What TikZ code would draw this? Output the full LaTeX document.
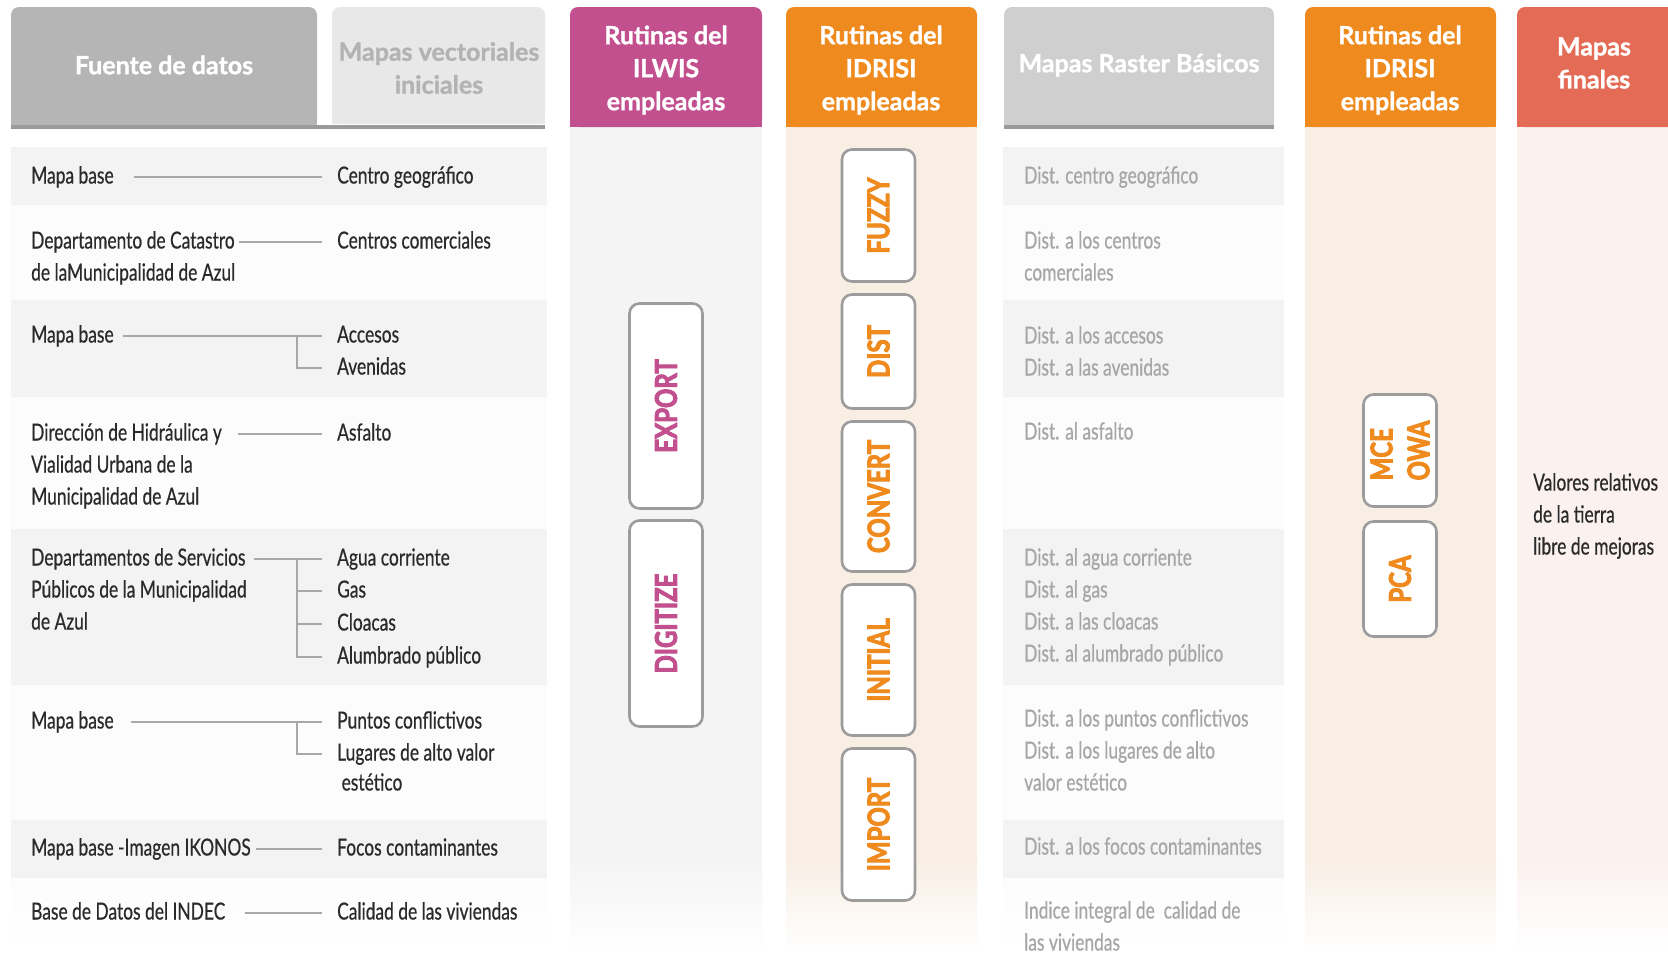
\documentclass[tikz,border=0pt]{standalone}
\usepackage{fontspec}
\setmainfont{Lato}
\newfontfamily\bodyf{Lato}[FakeStretch=0.74, FakeBold=0.5]
\newfontfamily\headf{Lato Bold}[FakeBold=1.2]
\newfontfamily\boxf{Lato Bold}[FakeStretch=0.8, FakeBold=3]
\definecolor{hdgray}{HTML}{B5B5B5}
\definecolor{hdlight}{HTML}{E8E8E8}
\definecolor{hdlighttext}{HTML}{B3B3B3}
\definecolor{ilwis}{HTML}{C2508F}
\definecolor{orng}{HTML}{EF8A1E}
\definecolor{rastgray}{HTML}{CFCFCF}
\definecolor{coral}{HTML}{E46B55}
\definecolor{band}{HTML}{F3F3F3}
\definecolor{bandw}{HTML}{FCFCFC}
\definecolor{ilbody}{HTML}{F4F4F5}
\definecolor{idbody}{HTML}{F8EEE4}
\definecolor{fibody}{HTML}{FBF1EF}
\definecolor{txt}{HTML}{2A2A2A}
\definecolor{rtxt}{HTML}{A6A6A6}
\definecolor{lnk}{HTML}{A8A8A8}
\definecolor{bxline}{HTML}{9C9C9C}
\definecolor{uline}{HTML}{9A9A9A}
\newcommand\ml[1]{\begin{tabular}[t]{@{}l@{}}#1\end{tabular}}
\begin{document}
\begin{tikzpicture}[x=1pt,y=-1pt,
  hdtext/.style={align=center, inner sep=0pt, font=\headf\fontsize{25}{33}\selectfont},
  src/.style={anchor=base west, inner sep=0pt, text=txt, font=\bodyf\fontsize{23.5}{32}\selectfont},
  ras/.style={src, text=rtxt},
  conn/.style={draw=lnk, line width=1.8pt, shorten >=15pt},
  rbox/.style={draw=bxline, line width=2.6pt, fill=white, rounded corners=10pt, rotate=90,
     inner sep=0pt, minimum height=73pt, font=\boxf\fontsize{30}{37}\selectfont}]
\useasboundingbox (0,0) rectangle (1668,954);
\fill[white] (0,0) rectangle (1668,954);
% ---- row bands (left group and raster column)
\foreach \xa/\xb in {11/547, 1003/1284}{
  \fill[band]  (\xa,147) rectangle (\xb,205);
  \fill[bandw] (\xa,205) rectangle (\xb,300);
  \fill[band]  (\xa,300) rectangle (\xb,397);
  \fill[bandw] (\xa,397) rectangle (\xb,529);
  \fill[band]  (\xa,529) rectangle (\xb,685);
  \fill[bandw] (\xa,685) rectangle (\xb,820);
  \fill[band]  (\xa,820) rectangle (\xb,878);
  \shade[top color=bandw, bottom color=white] (\xa,878) rectangle (\xb,950);
}
% ---- column bodies
\foreach \xa/\xb/\c in {570/762/ilbody, 786/977/idbody, 1305/1496/idbody, 1517/1680/fibody}{
  \fill[\c] (\xa,127) rectangle (\xb,860);
  \shade[top color=\c, bottom color=white] (\xa,859) rectangle (\xb,952);
}
% ---- headers
\foreach \xa/\xb/\yb/\c in {11/317/126/hdgray, 332/545/124/hdlight, 570/762/127/ilwis, 786/977/127/orng,
   1004/1274/126/rastgray, 1305/1496/127/orng, 1517/1690/127/coral}{
  \fill[\c, rounded corners=8pt] (\xa,7) rectangle (\xb,\yb);
  \fill[\c] (\xa,40) rectangle (\xb,\yb);
}
\fill[uline] (11,125) rectangle (545,129);
\fill[uline] (1004,125) rectangle (1274,129);
\node[hdtext, text=white] (hfuente) at (164,65) {Fuente de datos};
\node[hdtext, text=hdlighttext] (hvect) at (439,68) {Mapas vectoriales\\iniciales};
\node[hdtext, text=white] (hilwis) at (666,70) {Rutinas del\\ILWIS\\empleadas};
\node[hdtext, text=white] (hidrisi) at (881,70) {Rutinas del\\IDRISI\\empleadas};
\node[hdtext, text=white] (hraster) at (1139,65) {Mapas Raster Básicos};
\node[hdtext, text=white] (hidrisib) at (1400,70) {Rutinas del\\IDRISI\\empleadas};
\node[hdtext, text=white] (hfinal) at (1594,63) {Mapas\\finales};
% ---- data sources
\node[src] (s1) at (31,183.5) {\ml{Mapa base}};
\node[src] (s2) at (31,248.5) {\ml{Departamento de Catastro\\de laMunicipalidad de Azul}};
\node[src] (s3) at (31,342.5) {\ml{Mapa base}};
\node[src] (s4) at (31,440.5) {\ml{Dirección de Hidráulica y\\Vialidad Urbana de la\\Municipalidad de Azul}};
\node[src] (s5) at (31,565.5) {\ml{Departamentos de Servicios\\Públicos de la Municipalidad\\de Azul}};
\node[src] (s6) at (31,728.5) {\ml{Mapa base}};
\node[src] (s7) at (31,855.5) {\ml{Mapa base -Imagen IKONOS}};
\node[src] (s8) at (31,919.5) {\ml{Base de Datos del INDEC}};
% ---- initial vector maps
\node[src] (v1) at (337,183.5) {\ml{Centro geográfico}};
\node[src] (v2) at (337,248.5) {\ml{Centros comerciales}};
\node[src] (v3a) at (337,342.5) {\ml{Accesos}};
\node[src] (v3b) at (337,374.5) {\ml{Avenidas}};
\node[src] (v4) at (337,440.5) {\ml{Asfalto}};
\node[src] (v5a) at (337,565.5) {\ml{Agua corriente}};
\node[src] (v5b) at (337,597.5) {\ml{Gas}};
\node[src] (v5c) at (337,630.5) {\ml{Cloacas}};
\node[src] (v5d) at (337,663.5) {\ml{Alumbrado público}};
\node[src] (v6a) at (337,728.5) {\ml{Puntos conflictivos}};
\node[src] (v6b) at (337,760.5) {\ml{Lugares de alto valor}};
\node[src] (v6c) at (337,790.5) {\ml{\ estético}};
\node[src] (v7) at (337,855.5) {\ml{Focos contaminantes}};
\node[src] (v8) at (337,919.5) {\ml{Calidad de las viviendas}};
% ---- connectors
\coordinate (jx) at (297,0);
\draw[conn, shorten <=20pt] (s1.east |- v1.west) -- (v1.west);
\draw[conn, shorten <=4pt] (s2.east |- v2.west) -- (v2.west);
\draw[conn, shorten <=9pt] (s3.east |- v3a.west) -- (v3a.west);
\draw[conn] (v3a.west -| jx) |- (v3b.west);
\draw[conn, shorten <=16pt] (s4.east |- v4.west) -- (v4.west);
\draw[conn, shorten <=7pt] (s5.east |- v5a.west) -- (v5a.west);
\draw[conn] (v5a.west -| jx) |- (v5d.west);
\draw[conn] (v5b.west -| jx) -- (v5b.west);
\draw[conn] (v5c.west -| jx) -- (v5c.west);
\draw[conn, shorten <=17pt] (s6.east |- v6a.west) -- (v6a.west);
\draw[conn] (v6a.west -| jx) |- (v6b.west);
\draw[conn, shorten <=5pt] (s7.east |- v7.west) -- (v7.west);
\draw[conn, shorten <=20pt] (s8.east |- v8.west) -- (v8.west);
% ---- raster maps
\node[ras] (r1) at (1024,183.5) {\ml{Dist. centro geográfico}};
\node[ras] (r2) at (1024,248.5) {\ml{Dist. a los centros\\comerciales}};
\node[ras] (r3) at (1024,343.5) {\ml{Dist. a los accesos\\Dist. a las avenidas}};
\node[ras] (r4) at (1024,439.5) {\ml{Dist. al asfalto}};
\node[ras] (r5) at (1024,565.5) {\ml{Dist. al agua corriente\\Dist. al gas\\Dist. a las cloacas\\Dist. al alumbrado público}};
\node[ras] (r6) at (1024,726.5) {\ml{Dist. a los puntos conflictivos\\Dist. a los lugares de alto\\valor estético}};
\node[ras] (r7) at (1024,854.5) {\ml{Dist. a los focos contaminantes}};
\node[ras] (r8) at (1024,918.5) {\ml{Indice integral de \ calidad de\\las viviendas}};
% ---- final maps
\node[src] (f1) at (1533,490.5) {\ml{Valores relativos\\de la tierra\\libre de mejoras}};
% ---- routine boxes
\node[rbox, text=ilwis, minimum width=205pt] (export) at (666,406) {EXPORT};
\node[rbox, text=ilwis, minimum width=206pt] (digitize) at (666,623.5) {DIGITIZE};
\node[rbox, text=orng, minimum width=132pt] (fuzzy) at (878.5,215.5) {FUZZY};
\node[rbox, text=orng, minimum width=114pt] (dist) at (878.5,351.5) {DIST};
\node[rbox, text=orng, minimum width=150pt] (convert) at (878.5,496.5) {CONVERT};
\node[rbox, text=orng, minimum width=151pt] (initial) at (878.5,660) {INITIAL};
\node[rbox, text=orng, minimum width=152pt] (import) at (878.5,824.5) {IMPORT};
\node[rbox, text=orng, minimum width=112pt, align=left] (mce) at (1400,450.5) {MCE\\OWA};
\node[rbox, text=orng, minimum width=115pt] (pca) at (1400,579) {PCA};
\end{tikzpicture}
\end{document}
